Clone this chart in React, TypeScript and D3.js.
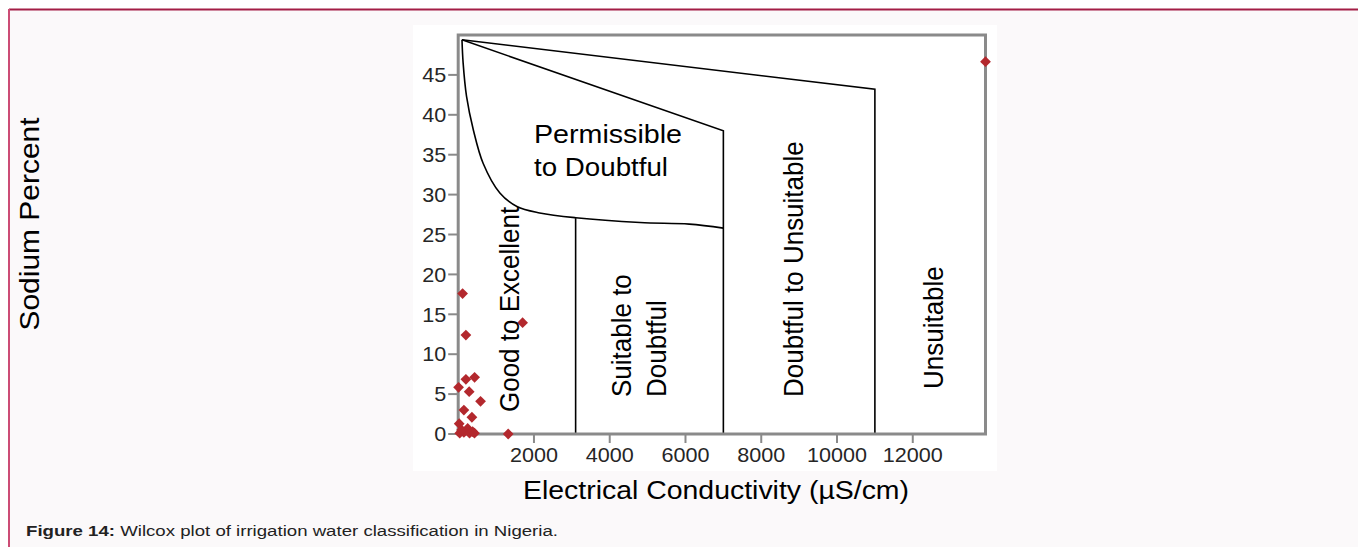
import React from "react";
import * as d3 from "d3";

// ---- data ----
const ecValues = [116, 203, 1700, 203, 433, 10, 290, 590, 150, 362, 26, 1320, 40, 150, 250, 300, 380, 430, 90, 13920];
const naPercent = [17.6, 12.4, 13.95, 6.85, 7.1, 5.85, 5.3, 4.1, 3.0, 2.1, 1.3, 0, 0.1, 0.2, 0.7, 0.1, 0.3, 0.1, 0.5, 46.65];

const yTicks = [0, 5, 10, 15, 20, 25, 30, 35, 40, 45];
const xTicks = [2000, 4000, 6000, 8000, 10000, 12000];

// Wilcox boundary lines (EC, Na%)
const upperBoundary: [number, number][] = [[100, 49.4], [11000, 43.2], [11000, 0]];
const middleBoundary: [number, number][] = [[100, 49.4], [7000, 38.0], [7000, 0]];
const curveBoundary: [number, number][] = [
  [100, 49.4], [130, 46.5], [220, 42.3], [400, 38.1], [660, 33.9], [1100, 30.2],
  [1550, 28.5], [2150, 27.7], [3100, 27.1], [4800, 26.5], [6100, 26.3], [7000, 25.8],
];
const suitableLine: [number, number][] = [[3100, 27.05], [3100, 0]];

const xDomain = [0, 13920];
const yDomain = [0, 50];

const FONT = "'Liberation Sans', Arial, Helvetica, sans-serif";

export default function App() {
  const x = d3.scaleLinear().domain(xDomain).range([458.2, 985.5]);
  const y = d3.scaleLinear().domain(yDomain).range([434, 35]);

  const line = d3.line<[number, number]>().x((d) => x(d[0])).y((d) => y(d[1]));
  const curve = d3
    .line<[number, number]>()
    .x((d) => x(d[0]))
    .y((d) => y(d[1]))
    .curve(d3.curveCatmullRom.alpha(0.5));

  const diamond = d3.symbol().type(d3.symbolSquare).size(58)()!;

  const x0 = x(xDomain[0]);
  const x1 = x(xDomain[1]);
  const yTop = y(yDomain[1]);
  const yBot = y(yDomain[0]);

  const rot = (tx: number, ty: number) => `translate(${tx},${ty}) scale(1.08,1) rotate(-90)`;

  return (
    <svg
      width={1358}
      height={547}
      style={{ position: "absolute", left: 0, top: 0, display: "block" }}
      fontFamily={FONT}
    >
      <rect x={0} y={0} width={1358} height={547} fill="#ffffff" />
      {/* page frame */}
      <rect x={9} y={9} width={1349} height={538} fill="#fbf9fa" />
      <line x1={9} y1={9.5} x2={1358} y2={9.5} stroke="#a31d45" strokeWidth={2} />
      <line x1={9} y1={9} x2={9} y2={547} stroke="#cc4c75" strokeWidth={2} />

      {/* chart image background */}
      <rect x={413} y={25} width={584} height={446} fill="#ffffff" />

      {/* boundaries */}
      <g fill="none" stroke="#000" strokeWidth={1.6}>
        <path d={line(upperBoundary)!} />
        <path d={line(middleBoundary)!} />
        <path d={curve(curveBoundary)!} />
        <path d={line(suitableLine)!} />
      </g>

      {/* plot frame */}
      <rect
        x={x0}
        y={yTop}
        width={x1 - x0}
        height={yBot - yTop}
        fill="none"
        stroke="#8a8a8a"
        strokeWidth={3}
      />

      {/* y ticks */}
      <g>
        {yTicks.map((t) => (
          <g key={t}>
            <line x1={x0 - 10} x2={x0} y1={y(t)} y2={y(t)} stroke="#8a8a8a" strokeWidth={2} />
            <text
              transform={`translate(${x0 - 12},${y(t)}) scale(1.08,1)`}
              dy="0.36em"
              textAnchor="end"
              fontSize={20}
              fill="#262626"
            >
              {t}
            </text>
          </g>
        ))}
      </g>
      {/* x ticks */}
      <g>
        {xTicks.map((t) => (
          <g key={t}>
            <line x1={x(t)} x2={x(t)} y1={yBot} y2={yBot + 9} stroke="#8a8a8a" strokeWidth={2} />
            <text
              transform={`translate(${x(t)},${yBot + 28}) scale(1.08,1)`}
              textAnchor="middle"
              fontSize={20}
              fill="#262626"
            >
              {t}
            </text>
          </g>
        ))}
      </g>

      {/* points */}
      <g fill="#b3282d">
        {ecValues.map((v, i) => (
          <path
            key={i}
            d={diamond}
            transform={`translate(${x(v)},${y(naPercent[i])}) rotate(45)`}
          />
        ))}
      </g>

      {/* region labels */}
      <g fill="#000" fontSize={26}>
        <text x={534} y={143} textLength={148} lengthAdjust="spacingAndGlyphs">Permissible</text>
        <text x={534} y={176} textLength={134} lengthAdjust="spacingAndGlyphs">to Doubtful</text>
        <text transform={rot(519, 412)}>Good to Excellent</text>
        <text transform={rot(631, 397)}>Suitable to</text>
        <text transform={rot(666, 397)}>Doubtful</text>
        <text transform={rot(803, 397)}>Doubtful to Unsuitable</text>
        <text transform={rot(943, 389)}>Unsuitable</text>
      </g>

      {/* axis titles */}
      <text
        x={523}
        y={499}
        fontSize={26}
        fill="#000"
        textLength={386}
        lengthAdjust="spacingAndGlyphs"
      >
        Electrical Conductivity (µS/cm)
      </text>
      <text
        transform="translate(39,224) rotate(-90)"
        textAnchor="middle"
        fontSize={28}
        fill="#000"
        textLength={213}
        lengthAdjust="spacingAndGlyphs"
      >
        Sodium Percent
      </text>

      {/* caption */}
      <text x={26} y={536} fontSize={15.5} fill="#222" textLength={532} lengthAdjust="spacingAndGlyphs">
        <tspan fontWeight="bold">Figure 14: </tspan>
        <tspan>Wilcox plot of irrigation water classification in Nigeria.</tspan>
      </text>
    </svg>
  );
}
